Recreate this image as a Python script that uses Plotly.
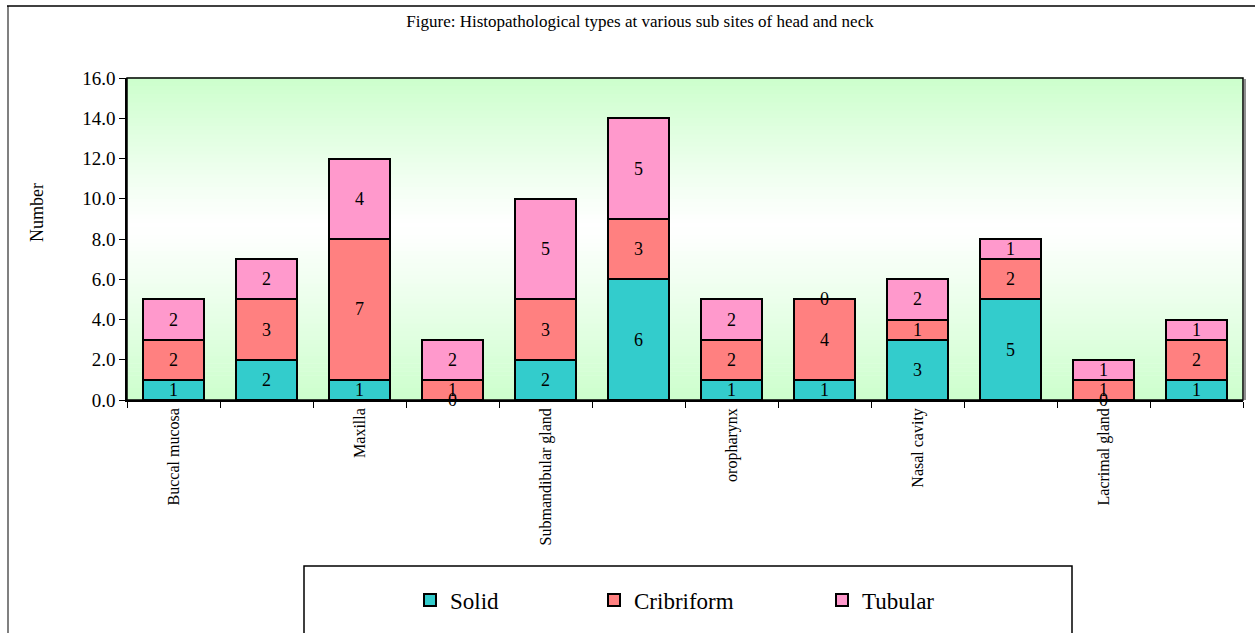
import plotly.graph_objects as go

# Sub sites (only alternate sites carry a printed axis label)
site_labels = ["Buccal mucosa", "", "Maxilla", "", "Submandibular gland", "",
               "oropharynx", "", "Nasal cavity", "", "Lacrimal gland", ""]
positions = list(range(len(site_labels)))

solid = [1, 2, 1, 0, 2, 6, 1, 1, 3, 5, 0, 1]
cribriform = [2, 3, 7, 1, 3, 3, 2, 4, 1, 2, 1, 2]
tubular = [2, 2, 4, 2, 5, 5, 2, 0, 2, 1, 1, 1]

series = [("Solid", solid, "#33CCCC"),
          ("Cribriform", cribriform, "#FF8080"),
          ("Tubular", tubular, "#FF99CC")]

y_ticks = [0, 2, 4, 6, 8, 10, 12, 14, 16]

SERIF = "Liberation Serif, Times New Roman, serif"

# plot-area geometry in pixels
W, H = 1255, 633
L, R, T, B = 127, 12, 78, 233
PW, PH = W - L - R, H - T - B


def px_x(x):
    return (x - L) / PW


def px_y(y):
    return (H - B - y) / PH


fig = go.Figure()

legend_names = ["legend", "legend2", "legend3"]
base = [0] * len(positions)
zero_notes = []
for (name, vals, color), lg in zip(series, legend_names):
    fig.add_trace(go.Bar(
        x=positions, y=vals, name=name,
        marker=dict(color=color, line=dict(color="black", width=2)),
        width=0.66,
        text=[str(v) if v else "" for v in vals],
        textposition="inside", insidetextanchor="middle",
        textangle=0, constraintext="none",
        textfont=dict(family=SERIF, size=18, color="black"),
        legend=lg,
    ))
    for i, v in enumerate(vals):
        if v == 0:
            zero_notes.append((i, base[i]))
        base[i] += v

# gradient plot background: green at edges fading to white near the middle
shapes = []
n_strips = 80
centre = 0.54
top_col = (204, 255, 204)
for k in range(n_strips):
    y0 = k / n_strips
    y1 = (k + 1) / n_strips
    ym = (y0 + y1) / 2
    d = abs(ym - centre) / (centre if ym < centre else 1 - centre)
    d = min(d, 1.0) ** 1.1
    c = tuple(round(255 + (tc - 255) * d) for tc in top_col)
    shapes.append(dict(type="rect", xref="x domain", yref="y domain",
                       x0=0, x1=1, y0=y0, y1=y1 + 0.002,
                       fillcolor="rgb(%d,%d,%d)" % c, line=dict(width=0),
                       layer="below"))

# plot area frame and its shadow
shapes.append(dict(type="line", xref="paper", yref="paper",
                   x0=1 + 2 / PW, x1=1 + 2 / PW, y0=0, y1=1 - 1 / PH,
                   line=dict(color="#909090", width=2)))
shapes.append(dict(type="rect", xref="paper", yref="paper",
                   x0=0, x1=1, y0=0, y1=1, line=dict(color="black", width=1.5)))

# outer chart frame
shapes.append(dict(type="line", xref="paper", yref="paper",
                   x0=px_x(8), x1=px_x(8), y0=px_y(6), y1=px_y(650),
                   line=dict(color="#808080", width=2)))
shapes.append(dict(type="line", xref="paper", yref="paper",
                   x0=px_x(7), x1=px_x(1270), y0=px_y(6), y1=px_y(6),
                   line=dict(color="black", width=1.5)))

# legend box
shapes.append(dict(type="rect", xref="paper", yref="paper",
                   x0=px_x(304), x1=px_x(1072), y0=px_y(566), y1=px_y(660),
                   line=dict(color="black", width=1.5), fillcolor="white",
                   layer="below"))

annotations = []
for i, b in zero_notes:
    annotations.append(dict(x=i, y=b, xref="x", yref="y", text="0",
                            showarrow=False,
                            font=dict(family=SERIF, size=18, color="black")))

annotations.append(dict(x=px_x(37), y=px_y(213), xref="paper", yref="paper",
                        xanchor="center", yanchor="middle",
                        text="Number", textangle=-90, showarrow=False,
                        font=dict(family=SERIF, size=18, color="black")))

legend_style = dict(orientation="h", xanchor="left", yanchor="middle",
                    xref="paper", yref="paper", bgcolor="rgba(0,0,0,0)",
                    font=dict(family=SERIF, size=23, color="black"),
                    borderwidth=0, itemsizing="constant")
legend_x = [410, 594, 822]

fig.update_layout(
    width=W, height=H,
    font=dict(family=SERIF, color="black"),
    margin=dict(l=L, r=R, t=T, b=B, pad=0),
    paper_bgcolor="white", plot_bgcolor="rgba(0,0,0,0)",
    barmode="stack", bargap=0.34,
    showlegend=True,
    title=dict(text="Figure: Histopathological types at various sub sites of head and neck",
               x=640 / W, xref="container", xanchor="center",
               y=1 - 21 / H, yref="container", yanchor="middle",
               font=dict(family=SERIF, size=17, color="black")),
    xaxis=dict(range=[-0.5, 11.5], tickmode="array", tickvals=positions,
               ticktext=site_labels, tickangle=-90, ticks="",
               tickfont=dict(family=SERIF, size=16, color="black"),
               showline=True, linecolor="black", linewidth=1.5,
               showgrid=False, zeroline=False, fixedrange=True,
               minor=dict(tickmode="linear", tick0=-0.5, dtick=1,
                          ticks="outside", ticklen=6, tickwidth=1,
                          tickcolor="black", showgrid=False)),
    yaxis=dict(range=[0, 16], tickmode="array", tickvals=y_ticks,
               ticktext=["%.1f" % v for v in y_ticks],
               ticks="outside", ticklen=6, tickwidth=1, tickcolor="black",
               tickfont=dict(family=SERIF, size=19, color="black"),
               showline=True, linecolor="black", linewidth=1.5,
               showgrid=False, zeroline=False),
    shapes=shapes,
    annotations=annotations,
    legend=dict(x=px_x(legend_x[0]), y=px_y(600), **legend_style),
    legend2=dict(x=px_x(legend_x[1]), y=px_y(600), **legend_style),
    legend3=dict(x=px_x(legend_x[2]), y=px_y(600), **legend_style),
)

fig.write_html("out.html")
